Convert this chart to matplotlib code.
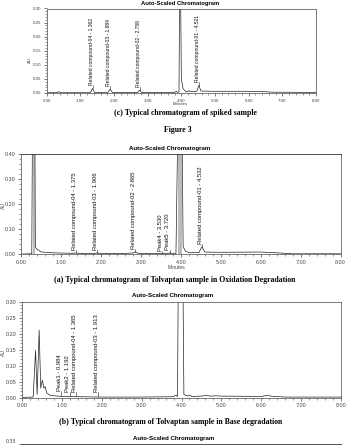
import numpy as np
import matplotlib.pyplot as plt
from matplotlib.ticker import MultipleLocator, FormatStrFormatter

# ---- data (time in min, response in AU) ----
# (c) spiked sample
t_c = [0.00, 0.30, 0.35, 0.40, 1.30, 1.362, 1.42, 1.82, 1.884, 1.95, 2.70, 2.758, 2.82,
       3.80, 3.85, 3.89, 3.93, 3.96, 4.00, 4.05, 4.12, 4.18, 4.22, 4.27, 4.46, 4.521, 4.58,
       5.00, 6.00, 6.40, 6.70, 8.00]
y_c = [0.001, 0.001, 0.005, 0.001, 0.001, 0.016, 0.002, 0.002, 0.013, 0.002, 0.002, 0.010, 0.002,
       0.002, 0.006, 0.002, 0.004, 0.600, 0.050, 0.015, 0.006, 0.004, 0.008, 0.005, 0.006, 0.028, 0.007,
       0.006, 0.006, 0.005, 0.003, 0.002]
lab_c = ['Related compound-04 - 1.362', 'Related compound-03 - 1.884',
         'Related compound-02 - 2.758', 'Related compound-01 - 4.521']
rt_c = [1.362, 1.884, 2.758, 4.521]
h_c = [0.016, 0.013, 0.010, 0.028]

# (a) oxidation degradation
t_a = [0.00, 0.27, 0.29, 0.345, 0.36, 0.40, 0.45, 0.50, 0.60, 0.80, 1.00, 1.33, 1.375, 1.42,
       1.86, 1.906, 1.95, 2.50, 2.80, 2.865, 2.93, 3.50, 3.53, 3.56, 3.69, 3.72, 3.75, 3.88,
       3.935, 4.025, 4.06, 4.12, 4.20, 4.45, 4.532, 4.60, 5.00, 6.00, 6.30, 6.80, 8.00]
y_a = [0.001, 0.002, 0.600, 0.600, 0.030, 0.020, 0.015, 0.010, 0.008, 0.006, 0.005, 0.004, 0.006, 0.004,
       0.003, 0.006, 0.003, 0.003, 0.005, 0.010, 0.004, 0.003, 0.005, 0.003, 0.003, 0.006, 0.003, 0.004,
       0.600, 0.600, 0.030, 0.012, 0.007, 0.007, 0.030, 0.009, 0.008, 0.009, 0.007, 0.002, 0.002]
lab_a = ['Related compound-04 - 1.375', 'Related compound-03 - 1.906',
         'Related compound-02 - 2.865', 'Peak4 - 3.530', 'Peak5 - 3.720',
         'Related compound-01 - 4.532']
rt_a = [1.375, 1.906, 2.865, 3.530, 3.720, 4.532]
h_a = [0.006, 0.006, 0.010, 0.005, 0.006, 0.030]

# (b) base degradation
t_b = [0.00, 0.28, 0.34, 0.38, 0.43, 0.47, 0.51, 0.55, 0.58, 0.62, 0.70, 0.80, 1.00, 1.50,
       2.00, 3.00, 3.80, 3.86, 3.90, 3.93, 4.02, 4.06, 4.15, 4.20, 4.26, 4.50, 4.60, 4.75,
       4.85, 5.00, 6.00, 6.15, 6.30, 6.60, 8.00]
y_b = [0.001, 0.002, 0.148, 0.010, 0.212, 0.030, 0.055, 0.030, 0.035, 0.015, 0.008, 0.006, 0.004, 0.003,
       0.002, 0.002, 0.003, 0.008, 0.004, 0.600, 0.600, 0.010, 0.005, 0.008, 0.004, 0.005, 0.007, 0.005,
       0.006, 0.005, 0.004, 0.007, 0.004, 0.002, 0.002]
lab_b = ['Peak1 - 0.984', 'Peak2 - 1.192', 'Related compound-04 - 1.365',
         'Related compound-03 - 1.913']
rt_b = [0.984, 1.192, 1.365, 1.913]
h_b = [0.004, 0.003, 0.003, 0.002]

W, H = 350, 445
fig = plt.figure(figsize=(W / 100, H / 100), dpi=100)
SANS = 'Liberation Sans'
SERIF = 'Liberation Serif'


def px_axes(x0, y0, x1, y1):
    # pixel box (top-left origin) -> figure axes
    return fig.add_axes([x0 / W, 1 - y1 / H, (x1 - x0) / W, (y1 - y0) / H])


def ftext(x, y, s, **kw):
    fig.text(x / W, 1 - y / H, s, ha='center', va='center', **kw)


def panel(ax, t, y, ymax, ystep, ymin_step, rts, hs, labels, lab_gap, fs, tfs):
    ax.plot(t, y, color='#222222', lw=0.5)
    ax.set_xlim(0, 8)
    ax.set_ylim(0, ymax)
    ax.xaxis.set_major_locator(MultipleLocator(1))
    ax.xaxis.set_minor_locator(MultipleLocator(0.2))
    ax.yaxis.set_major_locator(MultipleLocator(ystep))
    ax.yaxis.set_minor_locator(MultipleLocator(ymin_step))
    ax.xaxis.set_major_formatter(FormatStrFormatter('%.2f'))
    ax.yaxis.set_major_formatter(FormatStrFormatter('%.2f'))
    ax.tick_params(which='major', length=2.5, width=0.5, labelsize=tfs, pad=1.5,
                   colors='#444444')
    ax.tick_params(which='minor', length=1.5, width=0.4, colors='#444444')
    for lb in ax.get_xticklabels() + ax.get_yticklabels():
        lb.set_family(SANS)
    for s in ax.spines.values():
        s.set_linewidth(0.6)
        s.set_color('#666666')
    for rt, h, lab in zip(rts, hs, labels):
        y0 = h + 0.001
        y1 = h + lab_gap
        ax.plot([rt, rt], [y0, y1], color='#222222', lw=0.4)
        ax.text(rt - 0.04, y1, lab, rotation=90, ha='center', va='bottom',
                fontsize=fs, family=SANS, color='#111111')


# (c) spiked sample
ax_c = px_axes(46.7, 8.5, 316, 93)
panel(ax_c, t_c, y_c, 0.30, 0.05, 0.01, rt_c, h_c, lab_c, 0.012, 3.6, 3.2)
ftext(180, 3, 'Auto-Scaled Chromatogram', fontsize=4.2, weight='bold', family=SANS)
ftext(30, 60, 'AU', fontsize=3.2, rotation=90, family=SANS, color='#444444')
ftext(180, 103.7, 'Minutes', fontsize=3.2, family=SANS, color='#444444')
ftext(185, 112.7, '(c) Typical chromatogram of spiked sample',
      fontsize=5.6, weight='bold', family=SERIF)
ftext(178, 130, 'Figure 3', fontsize=5.6, weight='bold', family=SERIF)

# (a) oxidation degradation
ax_a = px_axes(21, 154.3, 340.5, 254.3)
ta, ya = np.array(t_a), np.array(y_a)
for lo, hi in [(0.28, 0.35), (3.93, 4.03)]:
    m = (ta >= lo) & (ta <= hi)
    ax_a.fill_between(ta[m], 0, ya[m], color='#bbbbbb', lw=0)
panel(ax_a, t_a, y_a, 0.40, 0.10, 0.02, rt_a, h_a, lab_a, 0.010, 4.2, 3.9)
ax_a.spines['top'].set_color('#333333')
ftext(170, 148.3, 'Auto-Scaled Chromatogram', fontsize=4.4, weight='bold', family=SANS)
ftext(3, 205.7, 'AU', fontsize=3.6, rotation=90, family=SANS, color='#444444')
ftext(176.7, 267.3, 'Minutes', fontsize=3.6, family=SANS, color='#444444')
ftext(175, 280, '(a) Typical chromatogram of Tolvaptan sample in Oxidation Degradation',
      fontsize=5.6, weight='bold', family=SERIF)

# (b) base degradation
ax_b = px_axes(22, 302, 341, 397.7)
panel(ax_b, t_b, y_b, 0.30, 0.05, 0.01, rt_b, h_b, lab_b, 0.016, 4.2, 3.9)
ftext(173, 295, 'Auto-Scaled Chromatogram', fontsize=4.4, weight='bold', family=SANS)
ftext(3.3, 352.7, 'AU', fontsize=3.6, rotation=90, family=SANS, color='#444444')
ftext(171, 422.3, '(b) Typical chromatogram of Tolvaptan sample in Base degradation',
      fontsize=5.6, weight='bold', family=SERIF)

# next panel, cut off at the bottom edge
ax_d = px_axes(21.7, 444.3, 340.7, 520)
ax_d.set_xlim(0, 8)
ax_d.set_ylim(0, 0.35)
ax_d.set_yticks([0.35])
ax_d.yaxis.set_major_formatter(FormatStrFormatter('%.2f'))
ax_d.set_xticks([])
ax_d.tick_params(length=2.5, width=0.5, labelsize=3.4, pad=1.5, colors='#444444')
for lb in ax_d.get_yticklabels():
    lb.set_verticalalignment('bottom')
for s in ax_d.spines.values():
    s.set_linewidth(0.6)
    s.set_color('#333333')
ftext(174, 438.3, 'Auto-Scaled Chromatogram', fontsize=4.4, weight='bold', family=SANS)

fig.savefig('out.png', dpi=100)
